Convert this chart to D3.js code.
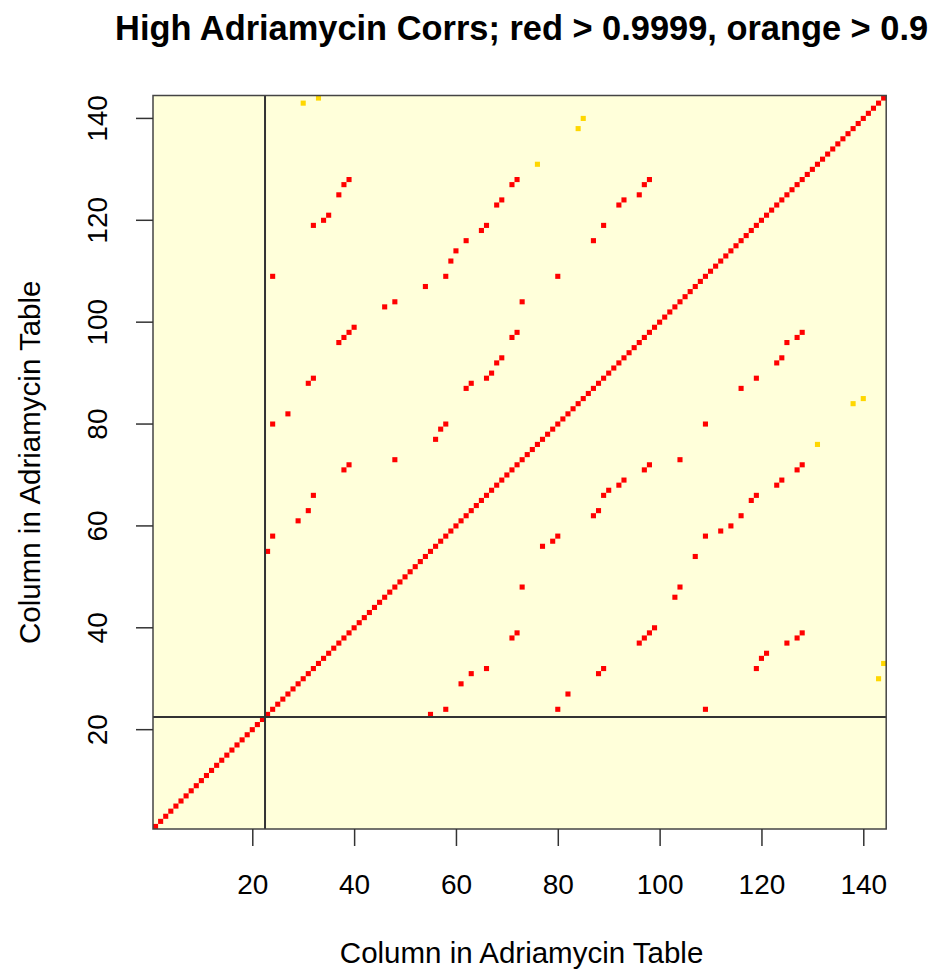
<!DOCTYPE html>
<html>
<head>
<meta charset="utf-8">
<script src="https://cdn.jsdelivr.net/npm/d3@7"></script>
<style>
  html, body { margin: 0; padding: 0; background: #ffffff; }
  svg { display: block; }
  text { font-family: "Liberation Sans", Arial, Helvetica, sans-serif; fill: #000; }
</style>
</head>
<body>
<svg id="chart" width="930" height="969"></svg>
<script>
// ---------------- data ----------------
const nColumns = 144;                       // matrix is nColumns x nColumns
const titleText = "High Adriamycin Corrs; red > 0.9999, orange > 0.9";
const xLabel = "Column in Adriamycin Table";
const yLabel = "Column in Adriamycin Table";
const xTicks = [20, 40, 60, 80, 100, 120, 140];
const yTicks = [20, 40, 60, 80, 100, 120, 140];
const cutPosition = 22.5;                   // reference lines (v & h)

// off-diagonal pairs [column, row] with corr > 0.9999 (upper triangle; mirrored)
const redPairs = [
  [23,55],[24,58],[29,61],[31,63],[32,66],[38,71],[39,72],[48,73],
  [56,77],[57,79],[58,80],[24,80],[27,82],[62,87],[63,88],[31,88],[32,89],
  [66,89],[67,90],[68,92],[69,93],[37,96],[38,97],[39,98],[40,99],
  [71,97],[72,98],[46,103],[48,104],[73,104],[54,107],[24,109],[58,109],
  [80,109],[59,112],[60,114],[62,116],[87,116],[65,118],[66,119],[89,119],
  [32,119],[34,120],[35,121],[68,123],[69,124],[92,123],[93,124],[37,125],
  [96,125],[38,127],[39,128],[71,127],[72,128],[97,127],[98,128]
];
// pairs [column, row] with 0.9 < corr <= 0.9999 (upper triangle; mirrored)
const orangePairs = [[76,131],[84,138],[85,140],[30,143],[33,144]];

(function () {
// ---------------- build cells ----------------
const cells = [];
d3.range(1, nColumns + 1).forEach(i => cells.push({c: i, r: i, level: "red"}));
redPairs.forEach(([c, r]) => {
  cells.push({c, r, level: "red"});
  cells.push({c: r, r: c, level: "red"});
});
orangePairs.forEach(([c, r]) => {
  cells.push({c, r, level: "orange"});
  cells.push({c: r, r: c, level: "orange"});
});
const colour = {red: "#ff0000", orange: "#ffd700"};

// ---------------- layout ----------------
const svg = d3.select("#chart");
const pL = 153, pR = 886.2, pT = 95.5, pB = 829;
const x = d3.scaleLinear().domain([0.5, nColumns + 0.5]).range([pL, pR]);
const y = d3.scaleLinear().domain([0.5, nColumns + 0.5]).range([pB, pT]);
const cw = x(1.5) - x(0.5), ch = y(0.5) - y(1.5);

// background (all below 0.9)
svg.append("rect")
  .attr("x", pL).attr("y", pT)
  .attr("width", pR - pL).attr("height", pB - pT)
  .attr("fill", "#ffffda");

svg.append("g").selectAll("rect").data(cells).join("rect")
  .attr("x", d => x(d.c - 0.5))
  .attr("y", d => y(d.r + 0.5))
  .attr("width", cw)
  .attr("height", ch)
  .attr("fill", d => colour[d.level]);

// reference lines
svg.append("line")
  .attr("x1", x(cutPosition)).attr("x2", x(cutPosition))
  .attr("y1", pT).attr("y2", pB)
  .attr("stroke", "#333").attr("stroke-width", 2);
svg.append("line")
  .attr("x1", pL).attr("x2", pR)
  .attr("y1", y(cutPosition)).attr("y2", y(cutPosition))
  .attr("stroke", "#333").attr("stroke-width", 2);

// box
svg.append("rect")
  .attr("x", pL).attr("y", pT)
  .attr("width", pR - pL).attr("height", pB - pT)
  .attr("fill", "none").attr("stroke", "#444").attr("stroke-width", 1.5);

// axes
const fontSize = 28;
const xAxis = d3.axisBottom(x).tickValues(xTicks).tickSize(17).tickPadding(28).tickFormat(d3.format("d"));
const gx = svg.append("g").attr("transform", `translate(0,${pB})`).call(xAxis);
gx.select(".domain").remove();
gx.selectAll("line").attr("stroke", "#333").attr("stroke-width", 1.5);
gx.selectAll("text").attr("font-size", fontSize).attr("font-family", "Liberation Sans, Arial, sans-serif").attr("fill", "#000");

const yAxis = d3.axisLeft(y).tickValues(yTicks).tickSize(17).tickFormat(d3.format("d"));
const gy = svg.append("g").attr("transform", `translate(${pL},0)`).call(yAxis);
gy.select(".domain").remove();
gy.selectAll("line").attr("stroke", "#333").attr("stroke-width", 1.5);
gy.selectAll(".tick").attr("transform", null);
gy.selectAll(".tick line").attr("y1", d => y(d)).attr("y2", d => y(d)).attr("x2", -17);
gy.selectAll(".tick text")
  .attr("font-size", fontSize).attr("font-family", "Liberation Sans, Arial, sans-serif").attr("fill", "#000")
  .attr("x", null).attr("dy", null).attr("y", null)
  .attr("text-anchor", "middle")
  .attr("transform", d => `translate(-46,${y(d)}) rotate(-90)`);

// titles
svg.append("text")
  .attr("x", (pL + pR) / 2 + 2).attr("y", 40)
  .attr("text-anchor", "middle")
  .attr("font-size", 34.4).attr("font-weight", "bold")
  .text(titleText);

svg.append("text")
  .attr("x", (pL + pR) / 2 + 2).attr("y", 963)
  .attr("text-anchor", "middle")
  .attr("font-size", 29.5)
  .text(xLabel);

svg.append("text")
  .attr("transform", `translate(40,${(pT + pB) / 2}) rotate(-90)`)
  .attr("text-anchor", "middle")
  .attr("font-size", 29.5)
  .text(yLabel);
})();
</script>
</body>
</html>
